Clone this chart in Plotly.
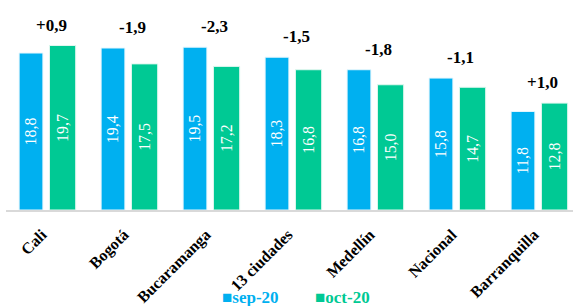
import plotly.graph_objects as go

categories = ["Cali", "Bogotá", "Bucaramanga", "13 ciudades", "Medellín", "Nacional", "Barranquilla"]
sep_20 = [18.8, 19.4, 19.5, 18.3, 16.8, 15.8, 11.8]
oct_20 = [19.7, 17.5, 17.2, 16.8, 15.0, 14.7, 12.8]
diff_labels = ["+0,9", "-1,9", "-2,3", "-1,5", "-1,8", "-1,1", "+1,0"]
series_names = ["sep-20", "oct-20"]

BLUE = "#00B0F0"
GREEN = "#00C994"
FONT = "Liberation Serif"

def fmt(v):
    return f"{v:.1f}".replace(".", ",")

fig = go.Figure()
fig.add_trace(go.Bar(
    x=categories, y=sep_20, name=series_names[0], showlegend=False,
    marker=dict(color=BLUE, line=dict(color="#E6F6FD", width=1)),
    offset=-0.34, width=0.29,
    text=[fmt(v) for v in sep_20], textposition="inside", insidetextanchor="middle",
    textangle=-90, textfont=dict(color="white", size=17, family=FONT),
))
fig.add_trace(go.Bar(
    x=categories, y=oct_20, name=series_names[1], showlegend=False,
    marker=dict(color=GREEN, line=dict(color="#E0F7EF", width=1)),
    offset=0.03, width=0.32,
    text=[fmt(v) for v in oct_20], textposition="inside", insidetextanchor="middle",
    textangle=-90, textfont=dict(color="white", size=17, family=FONT),
))

for i, (c, lab) in enumerate(zip(categories, diff_labels)):
    fig.add_annotation(
        x=i, y=max(sep_20[i], oct_20[i]), text=f"<b>{lab}</b>",
        showarrow=False, yanchor="bottom", xshift=4, yshift=9,
        font=dict(size=17, color="black", family=FONT),
    )

# legend drawn as text
for name, color, xc in [(series_names[0], BLUE, 250), (series_names[1], GREEN, 342)]:
    fig.add_annotation(
        xref="paper", yref="paper", x=(xc - 6) / 567, y=(210 - 297) / 210,
        text=f"<b>■{name}</b>", showarrow=False, xanchor="center", yanchor="middle",
        font=dict(size=17, color=color, family=FONT),
    )

fig.update_layout(
    width=573, height=306,
    margin=dict(l=6, r=0, t=0, b=96, autoexpand=False),
    plot_bgcolor="white", paper_bgcolor="white",
    barmode="group",
    showlegend=False,
    xaxis=dict(
        range=[-0.5, 6.415], showline=True, linecolor="#D9D9D9", linewidth=2,
        automargin=False,
        tickangle=-45, ticks="", ticklen=0, ticklabelshift=-5, ticklabelstandoff=7,
        tickfont=dict(size=16, color="black", family=FONT),
        tickvals=list(range(len(categories))),
        ticktext=[f"<b>{c}</b>" for c in categories],
    ),
    yaxis=dict(range=[0, 25.15], visible=False, showgrid=False, automargin=False),
    uniformtext=dict(mode="show", minsize=10),
)

fig.write_html("out.html", config={"displayModeBar": False},
               post_script="document.body.style.margin='0';document.body.style.overflow='hidden';")
